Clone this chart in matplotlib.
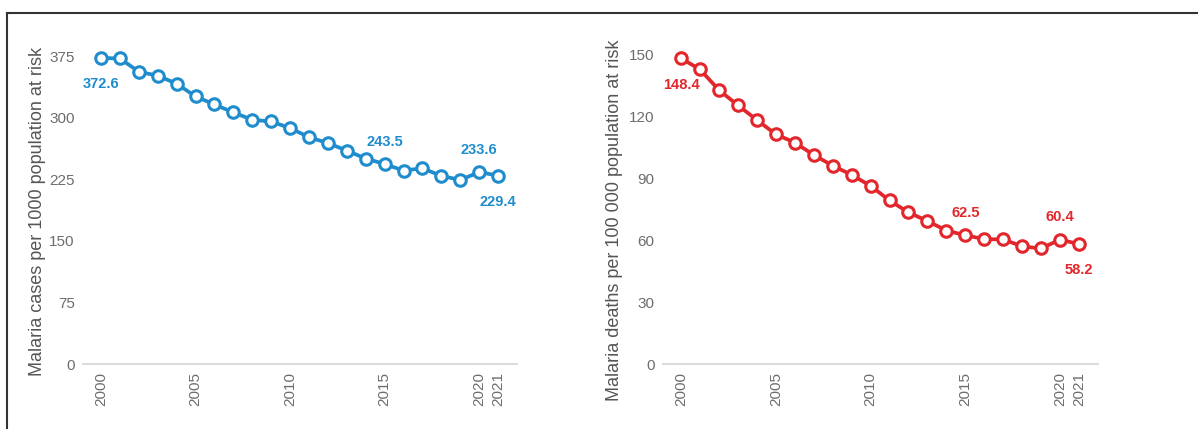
import matplotlib.pyplot as plt
from matplotlib.lines import Line2D

years = list(range(2000, 2022))
cases = [372.6, 372.0, 355.9, 351.0, 341.3, 325.8, 316.0, 306.3, 297.3, 295.3, 287.2,
         276.2, 268.9, 259.9, 250.1, 243.5, 235.5, 238.3, 229.0, 224.1, 233.6, 229.4]
deaths = [148.4, 143.0, 133.0, 125.6, 118.5, 111.5, 107.5, 101.5, 96.3, 91.8, 86.5,
          79.4, 73.6, 69.4, 64.8, 62.5, 60.6, 60.5, 57.1, 56.1, 60.4, 58.2]

year_ticks = [2000, 2005, 2010, 2015, 2020, 2021]
cases_ticks = [0, 75, 150, 225, 300, 375]
deaths_ticks = [0, 30, 60, 90, 120, 150]

# which points get a value label, and where (above / below)
cases_labels = {2000: "below", 2015: "above", 2020: "above", 2021: "below"}
deaths_labels = {2000: "below", 2015: "above", 2020: "above", 2021: "below"}

blue = "#1f8dcd"
red = "#e2262b"
font = ["Liberation Sans", "DejaVu Sans"]

fig = plt.figure(figsize=(11.98, 4.29), dpi=100)

# frame line at top and left of the picture
fig.add_artist(Line2D([7 / 1198, 1.0], [1 - 13 / 429, 1 - 13 / 429],
                      transform=fig.transFigure, color="#333333", lw=1.5))
fig.add_artist(Line2D([7 / 1198, 7 / 1198], [0, 1 - 13 / 429],
                      transform=fig.transFigure, color="#333333", lw=1.5))


def draw(rect, values, color, ticks, ylabel, labels, label_xy):
    ax = fig.add_axes(rect)
    ax.plot(years, values, color=color, lw=2.7, marker="o", ms=8.3,
            mfc="white", mec=color, mew=2.2, clip_on=False, zorder=3)
    ax.set_xlim(1999.05, 2022.0)
    ax.set_ylim(0, ticks[-1])
    for s in ["top", "right", "left"]:
        ax.spines[s].set_visible(False)
    ax.spines["bottom"].set_color("#dcdcdc")
    ax.spines["bottom"].set_linewidth(1.5)
    ax.set_xticks(year_ticks)
    ax.set_xticklabels([str(y) for y in year_ticks], rotation=90,
                       fontsize=11, color="#6d6d6d", family=font)
    ax.set_yticks(ticks)
    ax.set_yticklabels([str(t) for t in ticks], fontsize=11,
                       color="#6d6d6d", family=font)
    ax.tick_params(axis="both", length=0)
    ax.tick_params(axis="x", pad=6)
    ax.tick_params(axis="y", pad=6)
    ax.set_ylabel(ylabel, fontsize=13, color="#555555", family=font)
    ax.yaxis.set_label_coords(*label_xy)
    for y, pos in labels.items():
        v = values[years.index(y)]
        dy = -19 if pos == "below" else 16
        ax.annotate(f"{v:.1f}", (y, v), xytext=(0, dy), textcoords="offset points",
                    ha="center", va="center", fontsize=10.5, fontweight="bold",
                    color=color, family=font)
    return ax


draw([83 / 1198, 1 - 364 / 429, 434 / 1198, 308 / 429], cases, blue, cases_ticks,
     "Malaria cases per 1000 population at risk", cases_labels, (-0.085, 0.494))
draw([663 / 1198, 1 - 364 / 429, 435 / 1198, 309 / 429], deaths, red, deaths_ticks,
     "Malaria deaths per 100 000 population at risk", deaths_labels, (-0.093, 0.464))

fig.savefig("out.png", dpi=100)
